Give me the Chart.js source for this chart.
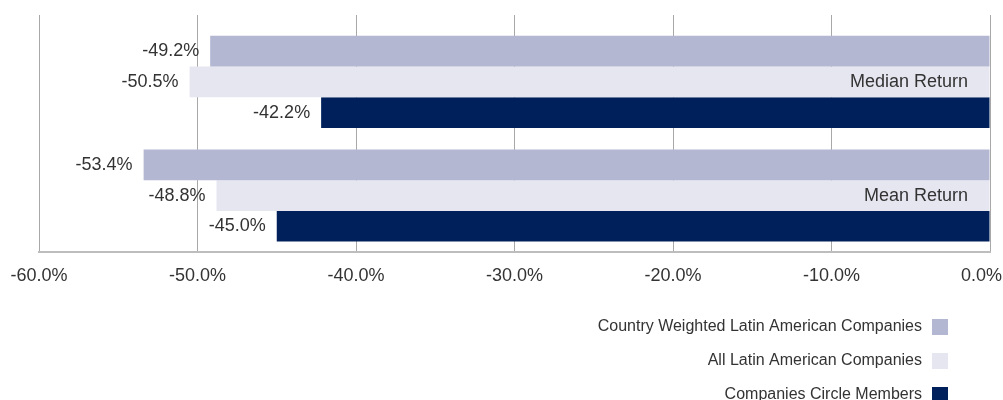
<!DOCTYPE html>
<html>
<head>
<meta charset="utf-8">
<script src="https://cdn.jsdelivr.net/npm/chart.js@4/dist/chart.umd.min.js"></script>
<style>
html,body{margin:0;padding:0;background:#fff;}
#wrap{width:1003px;height:400px;position:relative;}
</style>
</head>
<body>
<div id="wrap"><canvas id="c"></canvas></div>
<script>
const categories = ['Median Return', 'Mean Return'];
const seriesNames = ['Country Weighted Latin American Companies', 'All Latin American Companies', 'Companies Circle Members'];
const countryWeighted = [-49.2, -53.4];
const allLatin = [-50.5, -48.8];
const circleMembers = [-42.2, -45.0];
const xTickValues = [-60, -50, -40, -30, -20, -10, 0];
const seriesColors = ['#b3b7d2', '#e5e6f0', '#00205b'];

const FONT = '"Liberation Sans", Arial, Helvetica, sans-serif';
const TEXT = '#333333';
const GRID = '#a8a8a8';
const fmt = v => v.toFixed(1) + '%';

Chart.defaults.font.family = FONT;
Chart.defaults.color = TEXT;

// value labels to the left of each bar end, and category names inside the plot at the right
const valueLabels = {
  id: 'valueLabels',
  afterDatasetsDraw(chart) {
    const ctx = chart.ctx;
    ctx.save();
    ctx.font = '18px ' + FONT;
    ctx.fillStyle = TEXT;
    ctx.textAlign = 'right';
    ctx.textBaseline = 'middle';
    chart.data.datasets.forEach((ds, di) => {
      const meta = chart.getDatasetMeta(di);
      meta.data.forEach((bar, i) => {
        ctx.fillText(fmt(ds.data[i]), Math.min(bar.x, bar.base) - 11, bar.y);
      });
    });
    const ys = chart.scales.y;
    chart.data.labels.forEach((lab, i) => {
      ctx.fillText(lab, chart.chartArea.right - 22, ys.getPixelForValue(i));
    });
    ctx.restore();
  }
};

// keep the last x tick label inside the canvas (right-justified at the edge)
const fitLastTick = {
  id: 'fitLastTick',
  beforeDraw(chart) {
    const items = chart.scales.x.getLabelItems();
    if (!items.length) return;
    const last = items[items.length - 1];
    last.options.textAlign = 'right';
    last.options.translation[0] = chart.width - 1;
  }
};

const sideLegend = {
  id: 'sideLegend',
  afterDraw(chart) {
    const ctx = chart.ctx;
    const xs = chart.scales.x;
    const boxSize = 16, gap = 10, rightMargin = 55, rowGap = 34;
    const firstY = xs.bottom + 27;
    ctx.save();
    ctx.font = '16px ' + FONT;
    ctx.textAlign = 'right';
    ctx.textBaseline = 'middle';
    chart.data.datasets.forEach((ds, i) => {
      const cy = firstY + i * rowGap;
      const bx = chart.width - rightMargin - boxSize;
      ctx.fillStyle = ds.backgroundColor;
      ctx.fillRect(bx, cy - boxSize / 2, boxSize, boxSize);
      ctx.fillStyle = TEXT;
      ctx.fillText(ds.label, bx - gap, cy);
    });
    ctx.restore();
  }
};

new Chart(document.getElementById('c'), {
  type: 'bar',
  data: {
    labels: categories,
    datasets: [
      { label: seriesNames[0], data: countryWeighted, backgroundColor: seriesColors[0] },
      { label: seriesNames[1], data: allLatin, backgroundColor: seriesColors[1] },
      { label: seriesNames[2], data: circleMembers, backgroundColor: seriesColors[2] }
    ]
  },
  options: {
    indexAxis: 'y',
    responsive: true,
    maintainAspectRatio: false,
    animation: false,
    datasets: { bar: { categoryPercentage: 0.81, barPercentage: 1.0, borderWidth: 0 } },
    layout: { padding: { left: 39, right: 13, top: 15, bottom: 100 } },
    plugins: { legend: { display: false }, tooltip: { enabled: false } },
    scales: {
      x: {
        position: 'bottom',
        min: -60, max: 0,
        afterBuildTicks: s => { s.ticks = xTickValues.map(v => ({ value: v })); },
        afterFit: s => { s.paddingLeft = 0; s.paddingRight = 0; },
        ticks: { callback: v => fmt(v), font: { size: 18 }, color: TEXT, padding: 13, maxRotation: 0 },
        grid: { color: GRID, lineWidth: 1, drawTicks: false },
        border: { color: '#bdbdbd', width: 2 }
      },
      xTop: {
        axis: 'x',
        position: 'top',
        min: -60, max: 0,
        afterBuildTicks: s => { s.ticks = xTickValues.map(v => ({ value: v })); },
        afterFit: s => { s.paddingLeft = 0; s.paddingRight = 0; },
        ticks: { display: false },
        grid: { color: GRID, lineWidth: 1, drawOnChartArea: false, drawTicks: true, tickLength: 10 },
        border: { display: false }
      },
      y: {
        position: 'right',
        afterFit: s => { s.width = 0; s.paddingTop = 0; s.paddingBottom = 0; },
        ticks: { display: false },
        grid: { display: false },
        border: { display: false }
      }
    }
  },
  plugins: [valueLabels, fitLastTick, sideLegend]
});
</script>
</body>
</html>
